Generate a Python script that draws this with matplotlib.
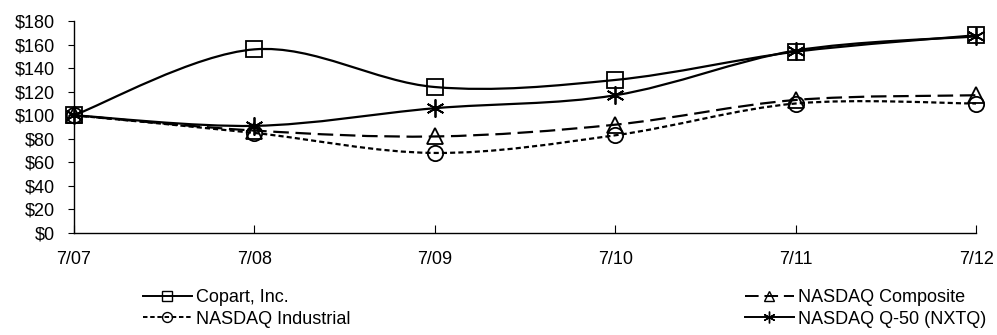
import numpy as np
import matplotlib.pyplot as plt
from matplotlib.path import Path
from matplotlib.patches import PathPatch
from matplotlib.lines import Line2D

plt.rcParams['font.family'] = ['Liberation Sans', 'DejaVu Sans']

# Data
dates = ['7/07', '7/08', '7/09', '7/10', '7/11', '7/12']
copart = [100, 156, 124, 130, 154, 168]
composite = [100, 87, 82, 92, 113, 117]
industrial = [100, 85, 68, 83, 110, 110]
q50 = [100, 91, 106, 117, 155, 167]

series = [
    ('Copart, Inc.', copart, 's', 11, None),
    ('NASDAQ Composite', composite, '^', 11, (7, 3)),
    ('NASDAQ Industrial', industrial, 'o', 11, (2.3, 1.4)),
    ('NASDAQ Q-50 (NXTQ)', q50, (6, 2, 0), 13, None),
]


def smooth_path(x, y):
    # Excel-style smoothed line: cubic Bezier segments through the points
    pts = np.column_stack([x, y]).astype(float)
    verts = [pts[0]]
    codes = [Path.MOVETO]
    n = len(pts)
    for i in range(n - 1):
        p0 = pts[i - 1] if i > 0 else pts[i]
        p1 = pts[i]
        p2 = pts[i + 1]
        p3 = pts[i + 2] if i + 2 < n else pts[i + 1]
        c1 = p1 + (p2 - p0) / 6.0
        c2 = p2 - (p3 - p1) / 6.0
        verts += [c1, c2, p2]
        codes += [Path.CURVE4] * 3
    return Path(verts, codes)


fig = plt.figure(figsize=(9.97, 3.35), dpi=100)
ax = fig.add_axes([0.0742, 0.3045, 0.9048, 0.6325])
x = np.arange(len(dates))

handles = {}
for name, vals, mk, ms, dashes in series:
    patch = PathPatch(smooth_path(x, vals), facecolor='none', edgecolor='black',
                      lw=1.6, zorder=2)
    if dashes is not None:
        patch.set_linestyle((0, dashes))
    ax.add_patch(patch)
    ax.plot(x, vals, linestyle='none', marker=mk, markersize=ms,
            markerfacecolor='none', markeredgecolor='black', markeredgewidth=1.3,
            zorder=3, clip_on=False)
    h = Line2D([], [], color='black', lw=1.4, marker=mk, markersize=ms * 0.65,
               markerfacecolor='none', markeredgecolor='black', markeredgewidth=1.0)
    if dashes is not None:
        h.set_dashes(dashes)
    handles[name] = h

ax.set_xlim(0, len(dates) - 1)
ax.set_ylim(0, 180)
ax.set_yticks(range(0, 181, 20))
ax.set_yticklabels(['$%d' % v for v in range(0, 181, 20)])
ax.set_xticks(x)
ax.set_xticklabels(dates)
for s in ['top', 'right']:
    ax.spines[s].set_visible(False)
for s in ['left', 'bottom']:
    ax.spines[s].set_linewidth(1.0)
ax.tick_params(axis='y', direction='out', length=4.5, labelsize=13, pad=9)
ax.tick_params(axis='x', direction='in', length=6, labelsize=13, pad=13)

leg_kw = dict(frameon=False, fontsize=13, handlelength=2.7, handletextpad=0.25,
              labelspacing=0.25, borderpad=0, borderaxespad=0)
names1 = ['Copart, Inc.', 'NASDAQ Industrial']
names2 = ['NASDAQ Composite', 'NASDAQ Q-50 (NXTQ)']
fig.legend([handles[n] for n in names1], names1, loc='upper left',
           bbox_to_anchor=(143 / 997, 1 - 289 / 335), **leg_kw)
fig.legend([handles[n] for n in names2], names2, loc='upper left',
           bbox_to_anchor=(745 / 997, 1 - 289 / 335), **leg_kw)

fig.savefig('out.png', dpi=100)
